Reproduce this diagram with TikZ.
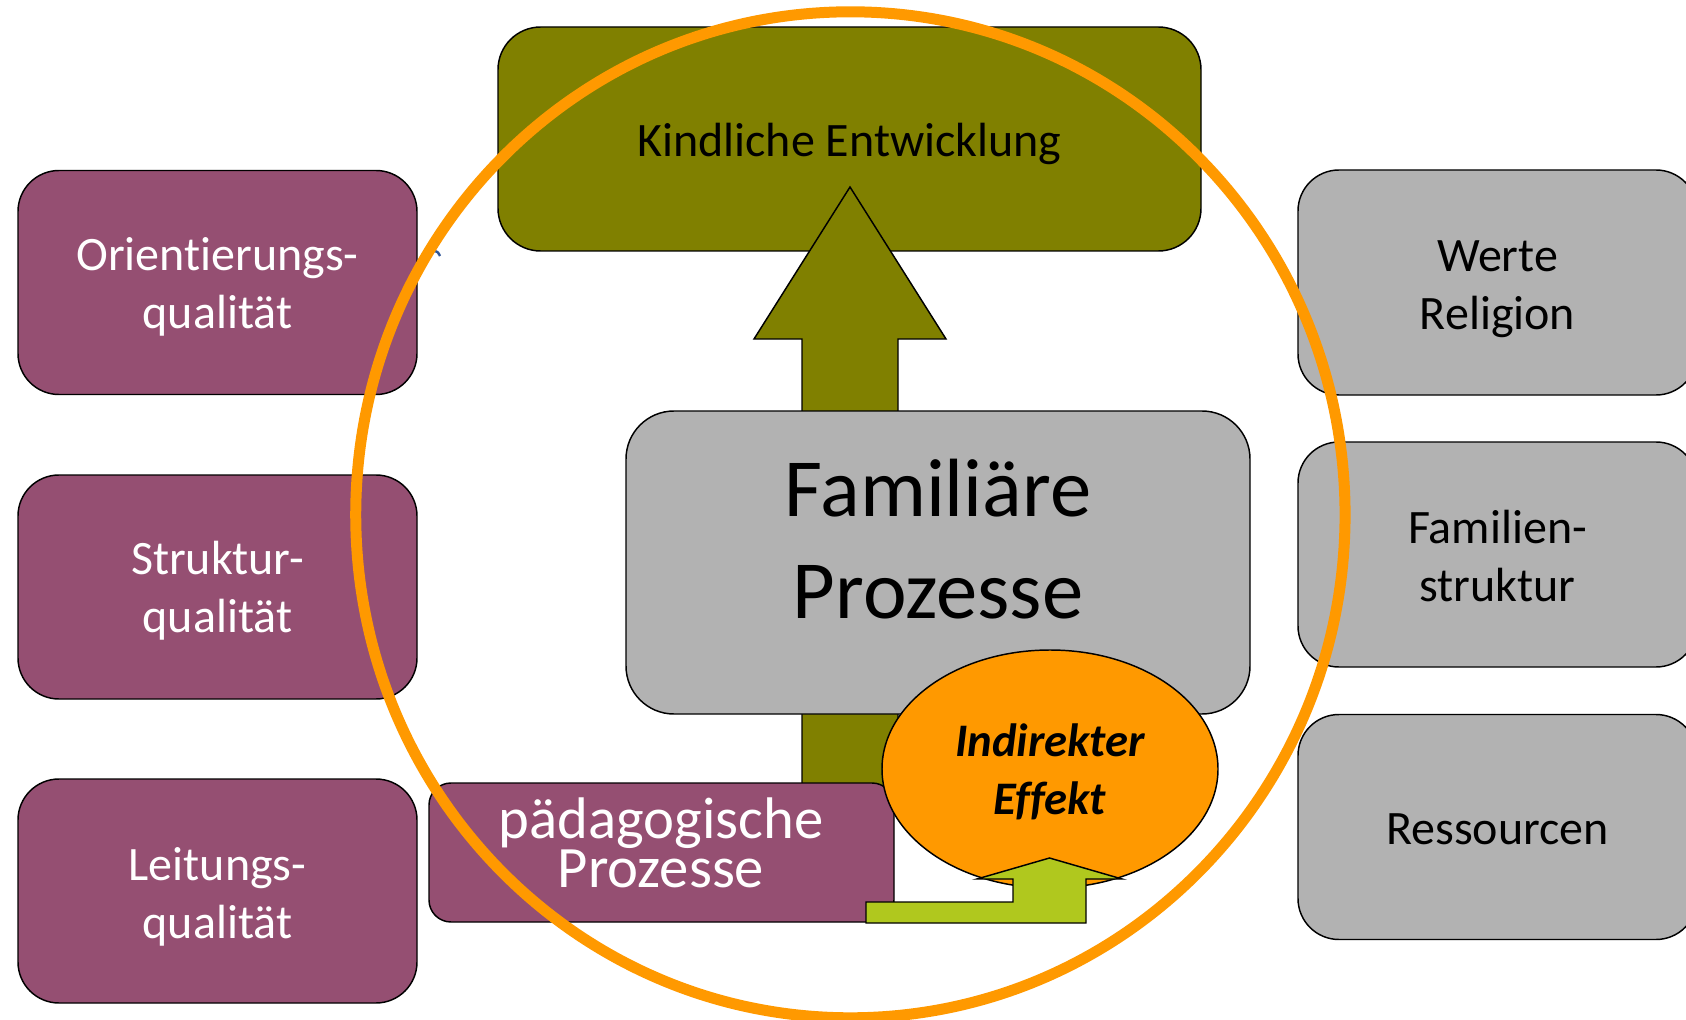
\documentclass[tikz,border=0pt]{standalone}
\usepackage{fontspec}
\setmainfont{Carlito}[Ligatures={NoCommon}]
\usetikzlibrary{shapes.geometric}
\definecolor{purpbox}{RGB}{149,79,114}
\definecolor{olivbox}{RGB}{128,128,0}
\definecolor{graybox}{RGB}{178,178,178}
\definecolor{orngc}{RGB}{255,153,0}
\definecolor{limeg}{RGB}{176,200,30}
\definecolor{markblue}{RGB}{47,85,151}
\newcommand{\tightlines}{\lineskiplimit=-100pt\relax}
\begin{document}
\begin{tikzpicture}[x=0.75pt,y=-0.75pt,
  basebox/.style={draw=black, line width=1.1pt, inner sep=0pt},
  txt/.style={align=center, inner sep=0pt, font=\fontsize{36}{43.5}\selectfont},
  pbox/.style={basebox, fill=purpbox, minimum width=299.25pt,
    minimum height=168pt, rounded corners=30.75pt},
  gbox/.style={basebox, fill=graybox, minimum width=299.25pt,
    minimum height=168.75pt, rounded corners=30.75pt},
  outline/.style={draw=black, line width=1.1pt, line join=miter}
]
\clip (0,0) rectangle (1686,1020);
\fill[white] (0,0) rectangle (1686,1020);

% left boxes
\node[pbox] (o1) at (217.5,282.5) {};
\node[txt, text=white] (o1t) at (217.5,287) {Orientierungs-\\qualität};
\node[pbox] (o2) at (217.5,587) {};
\node[txt, text=white] (o2t) at (217.5,591) {Struktur-\\qualität};
\node[pbox] (o3) at (217.5,891) {};
\node[txt, text=white] (o3t) at (217.5,896.5) {Leitungs-\\qualität};

% right boxes
\node[gbox] (r1) at (1497.5,282.5) {};
\node[txt] (r1t) at (1497.5,289) {Werte\\Religion};
\node[gbox] (r2) at (1497.5,554.5) {};
\node[txt] (r2t) at (1497.5,556) {Familien-\\struktur};
\node[gbox] (r3) at (1497.5,827) {};
\node[txt] (r3t) at (1497.5,829) {Ressourcen};

% top box
\node[basebox, fill=olivbox, minimum width=527.25pt, minimum height=168pt,
  rounded corners=32pt] (kind) at (849.5,139) {};
\node[txt] (kindt) at (849.5,143.5) {Kindliche Entwicklung};

% olive block arrow
\draw[outline, fill=olivbox] (802,795) -- (802,339) -- (754,339) -- (850,187)
  -- (946,339) -- (898,339) -- (898,795) -- cycle;

% central box
\node[basebox, fill=graybox, minimum width=468pt, minimum height=227.25pt,
  rounded corners=36pt] (fam) at (938,562.5) {};
\node[align=center, inner sep=0pt, font=\fontsize{62}{76.5}\selectfont]
  (famtxt) at (938,539) {Familiäre\\Prozesse};

% paedagogische box
\node[basebox, fill=purpbox, minimum width=348.75pt, minimum height=104.25pt,
  rounded corners=16.5pt] (paed) at (661.5,852.5) {};
\node[align=center, inner sep=0pt, text=white,
  font=\fontsize{44}{36.75}\selectfont\tightlines]
  (paedtxt) at (661,842.5) {pädagogische\\Prozesse};

% ellipse
\node[ellipse, draw=black, line width=1.1pt, fill=orngc, inner sep=0pt,
  minimum width=252pt, minimum height=178.5pt] (eff) at (1050,769) {};
\node[align=center, inner sep=0pt,
  font=\fontsize{35}{43}\selectfont\bfseries\itshape] (efft) at (1050,772)
  {Indirekter\\Effekt};

% lime bent arrow
\draw[outline, fill=limeg] (866,923) -- (866,902) -- (1013,902) -- (1013,879)
  -- (977,879) -- (1049.5,858) -- (1122,879) -- (1086,879) -- (1086,923) -- cycle;

% small blue mark
\draw[markblue, line width=1.8pt] (429,257) .. controls (432,249) and (437,249) .. (440,256);

% orange ring
\draw[orngc, line width=8.25pt] (850.4,514.8) ellipse[x radius=371pt, y radius=377.25pt];
\end{tikzpicture}
\end{document}
